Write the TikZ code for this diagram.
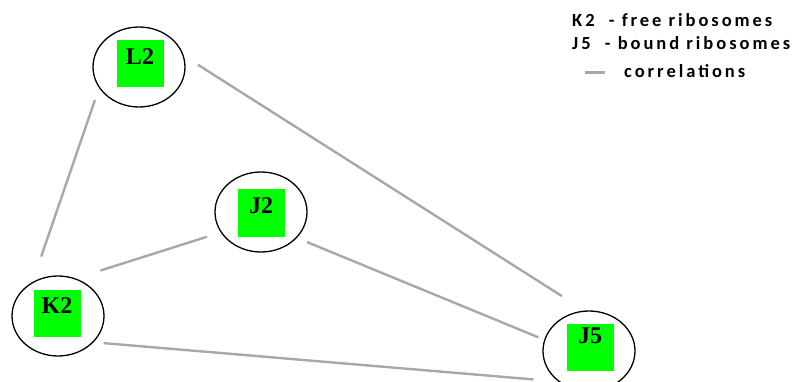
\documentclass[tikz,border=0pt]{standalone}
\usepackage{fontspec}
\setmainfont{Liberation Serif}
\newfontfamily\legfont[LetterSpace=16]{Carlito Bold}
\usetikzlibrary{shapes.geometric}
\definecolor{nodegreen}{RGB}{0,255,0}
\definecolor{edgegray}{RGB}{168,168,168}
\begin{document}
\begin{tikzpicture}[x=1pt,y=-1pt,
  ring/.style={draw=black, line width=1.3pt, ellipse, minimum width=92pt, minimum height=80pt, inner sep=0pt, outer sep=0pt},
  sq/.style={fill=nodegreen, minimum size=47pt, inner sep=0pt, outer sep=0pt},
  lab/.style={font=\fontsize{24}{24}\selectfont\bfseries, anchor=base, inner sep=0pt},
  corr/.style={draw=edgegray, line width=2.4pt},
  leg/.style={font=\legfont\fontsize{18.5}{18.5}\selectfont, anchor=base west, inner sep=0pt}
]
\useasboundingbox (0,0) rectangle (795,382);
% nodes
\node[ring] (L2) at (139,67) {};
\node[ring] (K2) at (58,316) {};
\node[ring] (J2) at (261,212) {};
\node[ring] (J5) at (589,351) {};
\node[sq] (L2s) at (140,64) {};
\node[sq] (K2s) at (57,313) {};
\node[sq] (J2s) at (261,213) {};
\node[sq] (J5s) at (590,347) {};
\node[lab] (L2t) at ([yshift=-24pt]L2s.north) {L2};
\node[lab] (K2t) at ([yshift=-24pt]K2s.north) {K2};
\node[lab] (J2t) at ([yshift=-24pt]J2s.north) {J2};
\node[lab] (J5t) at ([yshift=-20pt]J5s.north) {J5};
% correlations
\draw[corr, shorten <=13.5pt, shorten >=27.8pt] (L2.207) -- (K2.128);
\draw[corr, shorten <=17.8pt, shorten >=28pt] (L2.15) -- (J5.95);
\draw[corr, shorten <=15pt, shorten >=27pt] (J2.207) -- (K2.66);
\draw[corr, shorten <=11.5pt, shorten >=7pt] (J2.324) -- (J5.166);
\draw[corr, shorten <=11pt, shorten >=26pt] (K2.323) -- (J5.226);
% legend
\node[leg] (leg1) at (572,26.7) {K2\ \ - free ribosomes};
\node[leg] (leg2) at (572,50) {J5\ \ - bound ribosomes};
\node[leg] (leg3) at (624,77.5) {correlations};
\coordinate (legA) at (585,73);
\coordinate (legB) at (605,73);
\draw[draw=edgegray, line width=3pt] (legA) -- (legB);
\end{tikzpicture}
\end{document}
